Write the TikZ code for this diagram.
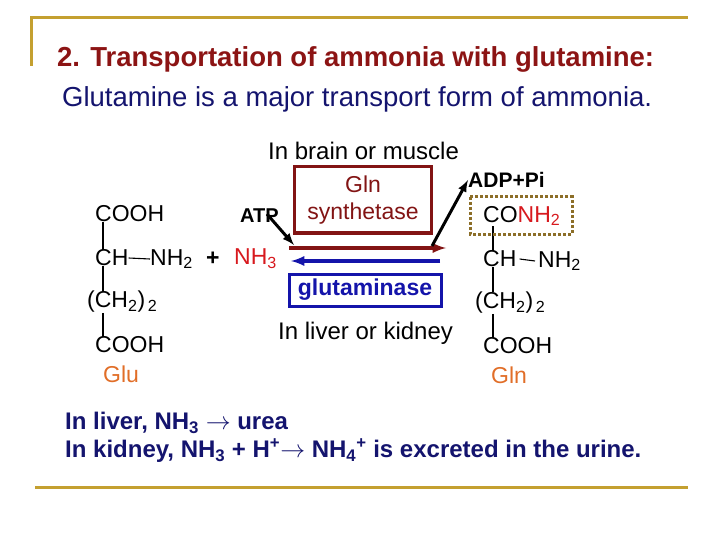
\documentclass[tikz,border=0pt]{standalone}
\usepackage{fontspec}
\setmainfont{Liberation Sans}
\usetikzlibrary{positioning}
\definecolor{frameol}{RGB}{196,160,48}
\definecolor{titlered}{RGB}{140,20,20}
\definecolor{navy}{RGB}{20,20,110}
\definecolor{enzred}{RGB}{130,20,20}
\definecolor{enzblue}{RGB}{20,20,170}
\definecolor{nhred}{RGB}{215,25,30}
\definecolor{amino}{RGB}{225,110,40}
\definecolor{dotbox}{RGB}{140,110,40}
\newcommand{\chem}{\fontsize{23}{25}\selectfont}
\tikzset{
  chemtxt/.style={anchor=west, inner sep=0pt, font=\chem},
  bond/.style={line width=1.1pt},
  fatarrow/.style={line width=3pt, -latex}
}
\begin{document}
\begin{tikzpicture}[x=1pt,y=-1pt]
\useasboundingbox (0,0) rectangle (720,540);
% frame
\draw[frameol, line width=3pt] (31,66) -- (31,18) -- (688,18);
\draw[frameol, line width=3pt] (35,487) -- (688,487);
% headings
\node[anchor=west, inner sep=0pt, text=titlered, font=\bfseries\fontsize{27.5}{29}\selectfont] (title) at (57,59) {2. Transportation of ammonia with glutamine:};
\node[anchor=west, inner sep=0pt, text=navy, font=\fontsize{27.5}{29}\selectfont] (sub) at (62,99) {Glutamine is a major transport form of ammonia.};
\node[anchor=west, inner sep=0pt, font=\fontsize{24}{26}\selectfont] (brain) at (268,151) {In brain or muscle};
% glutamate
\node[chemtxt] (gluTop) at (95,214) {COOH};
\node[chemtxt] (gluCH) at (95,258) {CH};
\node[chemtxt] (gluN) at (150,259) {NH\textsubscript{2}};
\node[chemtxt, font=\bfseries\chem] (plus) at (206,259) {+};
\node[chemtxt, text=nhred] (nh3) at (234,259) {NH\textsubscript{3}};
\node[chemtxt] (gluCH2) at (87,302) {(CH\textsubscript{2})\textsubscript{\,2}};
\node[chemtxt] (gluBot) at (95,345) {COOH};
\node[chemtxt, text=amino] (glu) at (103,374) {Glu};
\draw[bond] ([xshift=8pt]gluTop.south west) -- ([xshift=8pt]gluCH.north west);
\draw[bond] ([xshift=8pt]gluCH.south west) -- ([xshift=16pt]gluCH2.north west);
\draw[bond] ([xshift=16pt]gluCH2.south west) -- ([xshift=8pt]gluBot.north west);
\draw[bond] (gluCH.east) -- (gluN.west);
% glutamine
\node[chemtxt] (glnTop) at (483,216) {CO\textcolor{nhred}{NH\textsubscript{2}}};
\node[chemtxt] (glnCH) at (483,259) {CH};
\node[chemtxt] (glnN) at (538,261) {NH\textsubscript{2}};
\node[chemtxt] (glnCH2) at (475,303) {(CH\textsubscript{2})\textsubscript{\,2}};
\node[chemtxt] (glnBot) at (483,346) {COOH};
\node[chemtxt, text=amino] (gln) at (491,375) {Gln};
\draw[bond] ([xshift=10pt]glnTop.south west) -- ([xshift=10pt]glnCH.north west);
\draw[bond] ([xshift=10pt]glnCH.south west) -- ([xshift=18pt]glnCH2.north west);
\draw[bond] ([xshift=18pt]glnCH2.south west) -- ([xshift=10pt]glnBot.north west);
\draw[bond] (glnCH.east) ++(3,0) -- ([xshift=-3pt]glnN.west);
\draw[dotbox, line width=3pt, dotted] (470,197) rectangle (572,234);
% enzymes
\node[draw=enzred, line width=3pt, text=enzred, font=\fontsize{23}{27}\selectfont, align=center, minimum width=137pt, minimum height=66pt] (synth) at (363,200) {Gln\\synthetase};
\node[draw=enzblue, line width=3pt, text=enzblue, font=\bfseries\fontsize{23}{25}\selectfont, minimum width=152pt, minimum height=32pt] (gase) at (365,290) {glutaminase};
\node[anchor=west, inner sep=0pt, font=\fontsize{24}{26}\selectfont] (liver) at (278,333) {In liver or kidney};
\node[anchor=west, inner sep=0pt, font=\bfseries\fontsize{20}{22}\selectfont] (atp) at (240,216) {ATP};
\node[anchor=west, inner sep=0pt, font=\bfseries\fontsize{21}{23}\selectfont] (adp) at (468,180) {ADP+Pi};
% reactions
\coordinate (fwdA) at (289,248);
\coordinate (fwdB) at (446,248);
\coordinate (bwdA) at (440,261);
\coordinate (bwdB) at (291,261);
\draw[enzred, line width=3.5pt, -latex] (fwdA) -- (fwdB);
\draw[enzblue, line width=3.5pt, -latex] (bwdA) -- (bwdB);
\draw[fatarrow] (atp.east) ++(-12,-2) -- (294,245);
\draw[fatarrow] (432,246) -- (adp.west);
% notes
\node[anchor=west, inner sep=0pt, text=navy, font=\bfseries\fontsize{24}{26}\selectfont] (note1) at (65,423) {In liver, NH\textsubscript{3} $\rightarrow$ urea};
\node[anchor=west, inner sep=0pt, text=navy, font=\bfseries\fontsize{24}{26}\selectfont] (note2) at (65,451) {In kidney, NH\textsubscript{3} + H\textsuperscript{+}$\rightarrow$ NH\textsubscript{4}\textsuperscript{+} is excreted in the urine.};
\end{tikzpicture}
\end{document}
